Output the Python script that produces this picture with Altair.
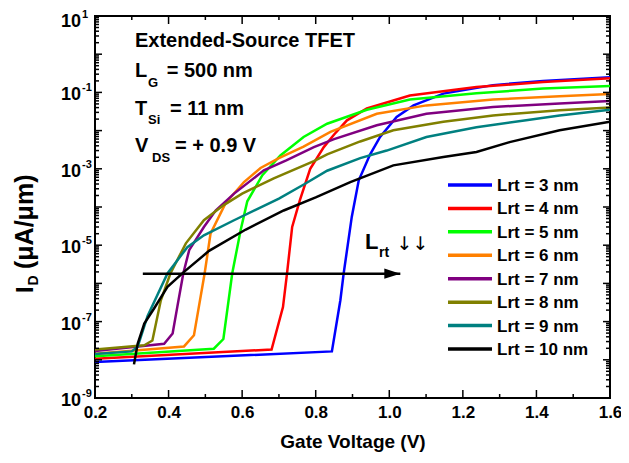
import altair as alt
import pandas as pd

# ---------------- data ----------------
series_names = ["Lrt = 3 nm", "Lrt = 4 nm", "Lrt = 5 nm", "Lrt = 6 nm",
                "Lrt = 7 nm", "Lrt = 8 nm", "Lrt = 9 nm", "Lrt = 10 nm"]
series_colors = ["#0000FF", "#FF0000", "#00FF00", "#FF8000",
                 "#800080", "#808000", "#008080", "#000000"]

v_3 = [0.2, 0.844, 0.867, 0.876, 0.898, 0.917, 0.948, 0.975, 1.02, 1.066, 1.147, 1.282, 1.418, 1.6]
i_3 = [8.7e-9, 1.66e-8, 3.63e-7, 1.82e-6, 5.5e-5, 5.0e-4, 2.4e-3, 6.8e-3, 2.29e-2, 4.57e-2, 9.3e-2, 0.155, 0.20, 0.25]

v_4 = [0.2, 0.68, 0.711, 0.722, 0.736, 0.757, 0.785, 0.822, 0.85, 0.885, 0.939, 1.056, 1.237, 1.418, 1.6]
i_4 = [1.07e-8, 1.86e-8, 2.4e-7, 1.82e-6, 3.0e-5, 1.51e-4, 1.0e-3, 3.7e-3, 7.9e-3, 1.86e-2, 3.8e-2, 8.3e-2, 0.138, 0.186, 0.234]

v_5 = [0.2, 0.523, 0.549, 0.573, 0.596, 0.614, 0.655, 0.704, 0.767, 0.831, 0.939, 1.056, 1.237, 1.418, 1.6]
i_5 = [1.23e-8, 1.95e-8, 3.5e-8, 1.82e-6, 2.5e-5, 1.41e-4, 6.8e-4, 2.24e-3, 6.8e-3, 1.51e-2, 3.5e-2, 6.5e-2, 9.5e-2, 0.126, 0.148]

v_6 = [0.2, 0.442, 0.469, 0.498, 0.514, 0.555, 0.605, 0.65, 0.70, 0.767, 0.84, 0.966, 1.101, 1.282, 1.463, 1.6]
i_6 = [1.45e-8, 2.24e-8, 4.4e-8, 1.82e-6, 2.0e-5, 1.26e-4, 4.5e-4, 1.05e-3, 1.9e-3, 3.8e-3, 9.3e-3, 2.75e-2, 4.57e-2, 6.5e-2, 7.9e-2, 9.1e-2]

v_7 = [0.2, 0.388, 0.411, 0.424, 0.44, 0.456, 0.496, 0.528, 0.578, 0.659, 0.72, 0.795, 0.85, 0.966, 1.101, 1.282, 1.463, 1.6]
i_7 = [1.7e-8, 2.63e-8, 4.9e-8, 2.5e-7, 1.82e-6, 7.4e-6, 3.0e-5, 8.1e-5, 2.24e-4, 9.1e-4, 1.66e-3, 3.7e-3, 6.0e-3, 1.38e-2, 2.75e-2, 4.17e-2, 5.1e-2, 6.0e-2]

v_8 = [0.2, 0.334, 0.356, 0.379, 0.405, 0.447, 0.496, 0.55, 0.60, 0.686, 0.795, 0.831, 0.921, 1.011, 1.147, 1.282, 1.463, 1.6]
i_8 = [1.86e-8, 2.4e-8, 3.2e-8, 3.6e-7, 1.82e-6, 1.12e-5, 4.5e-5, 1.12e-4, 2.24e-4, 5.6e-4, 1.58e-3, 2.4e-3, 5.2e-3, 1.02e-2, 1.7e-2, 2.5e-2, 3.4e-2, 4.0e-2]

v_9 = [0.2, 0.30, 0.316, 0.343, 0.397, 0.451, 0.496, 0.578, 0.70, 0.77, 0.831, 0.921, 0.993, 1.101, 1.237, 1.372, 1.463, 1.6]
i_9 = [1.41e-8, 1.66e-8, 2.2e-8, 1.41e-7, 1.82e-6, 8.9e-6, 1.82e-5, 4.5e-5, 1.66e-4, 4.0e-4, 8.9e-4, 1.9e-3, 3.0e-3, 6.8e-3, 1.23e-2, 1.86e-2, 2.5e-2, 3.5e-2]

v_10 = [0.306, 0.316, 0.334, 0.361, 0.397, 0.442, 0.51, 0.61, 0.713, 0.80, 0.894, 1.011, 1.147, 1.237, 1.327, 1.463, 1.6]
i_10 = [7.6e-9, 2.63e-8, 8.9e-8, 2.24e-7, 8.1e-7, 2.0e-6, 7.1e-6, 2.57e-5, 8.1e-5, 1.78e-4, 4.5e-4, 1.23e-3, 2.04e-3, 2.75e-3, 5.0e-3, 1.02e-2, 1.7e-2]

arrow_v = [0.33, 1.03]
arrow_i = [1.8e-6, 1.8e-6]

x_major = [0.2, 0.4, 0.6, 0.8, 1.0, 1.2, 1.4, 1.6]
x_minor = [0.3, 0.5, 0.7, 0.9, 1.1, 1.3, 1.5]
y_exponents = list(range(-9, 2))
y_label_exponents = [-9, -7, -5, -3, -1]
y_top_exponent = [1]

# ---------------- tables ----------------
all_v = [v_3, v_4, v_5, v_6, v_7, v_8, v_9, v_10]
all_i = [i_3, i_4, i_5, i_6, i_7, i_8, i_9, i_10]
curves = []
for name, vs, cs in zip(series_names, all_v, all_i):
    for v, c in zip(vs, cs):
        curves.append({"series": name, "V": v, "I": c})
df = pd.DataFrame(curves)
legend_df = pd.DataFrame({"series": series_names})

y_major = pd.DataFrame({"I": [10.0 ** e for e in y_exponents]})
y_minor = pd.DataFrame({"I": [k * 10.0 ** e for e in y_exponents[:-1] for k in range(2, 10)]})
xmaj = pd.DataFrame({"V": x_major})
xmin = pd.DataFrame({"V": x_minor})
ylab = pd.DataFrame({"I": [10.0 ** e for e in y_label_exponents],
                     "exp": [str(e) for e in y_label_exponents]})
ylab_top = pd.DataFrame({"I": [10.0 ** e for e in y_top_exponent],
                         "exp": [str(e) for e in y_top_exponent]})
arrow_df = pd.DataFrame({"V": arrow_v, "I": arrow_i})

# ---------------- layout ----------------
W, H = 515, 382
PAD_L, PAD_T = 87, 8
OX, OY = 8 + PAD_L, 8 + PAD_T   # page position of the plot origin
FONT = "Liberation Sans"

xs = alt.Scale(domain=[0.2, 1.6], nice=False, zero=False)
ys = alt.Scale(type="log", domain=[1e-9, 10], nice=False)
cs_scale = alt.Scale(domain=series_names, range=series_colors)

X = alt.X("V:Q", scale=xs, axis=alt.Axis(
    values=x_major, format=".1f", title="Gate Voltage (V)", ticks=False, tickSize=0,
    domain=False, grid=False, labelFlush=False, labelOverlap=False,
    labelFont=FONT, labelFontWeight="bold", labelFontSize=17,
    labelPadding=6, labelColor="black", titleFont=FONT, titleFontWeight="bold",
    titleFontSize=19, titlePadding=12, titleColor="black"))
Y = alt.Y("I:Q", scale=ys, axis=None)
color = alt.Color("series:N", scale=cs_scale, legend=None)

layers = []
for name in series_names:
    layers.append(alt.Chart(df[df.series == name]).mark_line(strokeWidth=2.5, clip=True)
                  .encode(x=X, y=Y, color=color))

# inward ticks on four sides
Xn = alt.X("V:Q", scale=xs)
Yn = alt.Y("I:Q", scale=ys, axis=None)
tick = dict(color="black", strokeWidth=1.5)
layers += [
    alt.Chart(xmaj).mark_rule(**tick).encode(x=Xn, y=alt.value(H), y2=alt.value(H - 8)),
    alt.Chart(xmin).mark_rule(**tick).encode(x=Xn, y=alt.value(H), y2=alt.value(H - 4)),
    alt.Chart(xmaj).mark_rule(**tick).encode(x=Xn, y=alt.value(0), y2=alt.value(8)),
    alt.Chart(xmin).mark_rule(**tick).encode(x=Xn, y=alt.value(0), y2=alt.value(4)),
    alt.Chart(y_major).mark_rule(**tick).encode(y=Yn, x=alt.value(0), x2=alt.value(7)),
    alt.Chart(y_minor).mark_rule(**tick).encode(y=Yn, x=alt.value(0), x2=alt.value(4)),
    alt.Chart(y_major).mark_rule(**tick).encode(y=Yn, x=alt.value(W), x2=alt.value(W - 7)),
    alt.Chart(y_minor).mark_rule(**tick).encode(y=Yn, x=alt.value(W), x2=alt.value(W - 4)),
]

# y tick labels 10^n
for tbl, shift in ((ylab, 0), (ylab_top, 3)):
    layers += [
        alt.Chart(tbl).mark_text(text="10", font=FONT, fontWeight="bold", fontSize=18,
                                 align="right", baseline="alphabetic", dy=8 + shift,
                                 color="black").encode(y=Yn, x=alt.value(81 - OX)),
        alt.Chart(tbl).mark_text(font=FONT, fontWeight="bold", fontSize=11,
                                 align="left", baseline="alphabetic", dy=-1 + shift,
                                 color="black").encode(y=Yn, x=alt.value(82 - OX), text="exp:N"),
    ]

# arrow
layers += [
    alt.Chart(arrow_df).mark_line(color="black", strokeWidth=2.5).encode(x=Xn, y=Yn),
    alt.Chart(arrow_df.tail(1)).mark_point(shape="M-2,-0.65L0,0L-2,0.65Z", size=256,
                                            filled=True, opacity=1, color="black",
                                            strokeWidth=0).encode(x=Xn, y=Yn),
]


def label(txt, xp, yp, size, angle=0, weight="bold", font=FONT):
    """Text placed at page position (xp, yp) = left end of the baseline."""
    return alt.Chart(alt.Data(values=[{}])).mark_text(
        text=txt, font=font, fontWeight=weight, fontSize=size, align="left",
        baseline="alphabetic", angle=angle, color="black").encode(
        x=alt.value(xp - OX), y=alt.value(yp - OY))


layers += [
    label("Extended-Source TFET", 135, 47.3, 20),
    label("L", 135, 77.3, 20), label("G", 148, 86.7, 13), label("= 500 nm", 166.7, 77.3, 20),
    label("T", 135, 115.0, 20), label("Si", 148, 123.5, 13), label("= 11 nm", 170, 115.0, 20),
    label("V", 135, 152.3, 20), label("DS", 152, 161.5, 13), label("= + 0.9 V", 175, 152.3, 20),
    label("L", 365, 249.3, 22), label("rt", 379, 256.7, 14),
    label("\u2193\u2193", 396.5, 249.5, 19, weight="normal", font="DejaVu Sans"),
    # y title (rotated)
    label("I", 32.8, 293, 24, angle=270),
    label("D", 37.8, 285.5, 14, angle=270),
    label("(\u03bcA/\u03bcm)", 32.8, 269, 25, angle=270),
]

main = alt.layer(*layers)

# legend drawn inside the plot, rows placed by a point scale
leg_y = alt.Y("series:N", scale=alt.Scale(type="point", domain=series_names,
                                           range=[185 - OY, 349 - OY], padding=0), axis=None)
legend_layer = alt.layer(
    alt.Chart(legend_df).mark_rule(strokeWidth=3.5).encode(
        y=leg_y, x=alt.value(448 - OX), x2=alt.value(492 - OX), color=color),
    alt.Chart(legend_df).mark_text(font=FONT, fontWeight="bold", fontSize=17, align="left",
                                   baseline="middle", dy=1, color="black").encode(
        y=leg_y, x=alt.value(497 - OX), text="series:N"),
)

chart = alt.layer(main, legend_layer).resolve_scale(y="independent", color="shared").properties(
    width=W, height=H,
    autosize=alt.AutoSizeParams(type="none"),
    padding={"left": PAD_L, "top": PAD_T, "right": 11, "bottom": 65},
    background="white",
).configure_view(stroke="black", strokeWidth=2)

chart.save("out.html", embed_options={"renderer": "svg", "actions": False})
